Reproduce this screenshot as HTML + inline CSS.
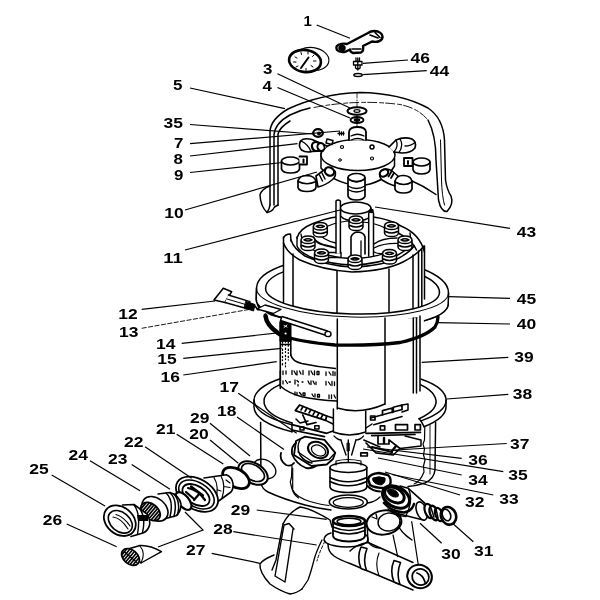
<!DOCTYPE html>
<html><head><meta charset="utf-8"><title>Filter parts diagram</title>
<style>html,body{margin:0;padding:0;background:#fff}svg{display:block;will-change:transform}</style></head>
<body>
<svg width="600" height="600" viewBox="0 0 600 600">
<rect width="600" height="600" fill="#fff"/>
<g id="drawing" fill="none" stroke="#000" stroke-width="1.5" stroke-linecap="round" stroke-linejoin="round">
<!-- gauge -->
<g id="gauge">
<ellipse cx="312" cy="59" rx="17" ry="11.5" transform="rotate(8 312 59)" stroke-width="1.1"/>
<ellipse cx="305" cy="61" rx="16" ry="11" transform="rotate(8 305 61)" fill="#fff" stroke-width="2.6"/>
<line x1="308.5" y1="57.5" x2="301" y2="68" stroke-width="2"/>
<path d="M295 57l2 1M293.5 62l2.5 0M296 67l2-1M301 52.5l.5 2M308 52l0 2M314 55l-1.5 1.5M316 61l-2.5 0M313 67l-2-1.5M306 70.5l0-2" stroke-width="1"/>
</g>
<!-- handle (1) -->
<g id="handle">
<path d="M347 44 L368 33 Q372 30 378 31.5 Q384 34 382 39 Q379 43 372 41.5 L363 46 Q364 51 361 52.5 L353 53 Q350 52 350 49.5 L346 51.5 Q340 53 337 50 Q335 46 339 44.5 Q343 43 347 44Z" fill="#fff" stroke-width="2.400"/>
<ellipse cx="342" cy="48" rx="3" ry="2.4" fill="#000"/>
<path d="M352 49h9M370 35l8 3M375 32.5l5 5" stroke-width="1.6"/>
</g>
<!-- bolt 46 / washer 44 -->
<g id="bolt46">
<path d="M353.5 61.5h8.5v3.5h-8.5zM356 58v3.5M359.5 58v3.5M355.5 65v3q2.3 2 4.600 0v-3M357.800 58v12" stroke-width="1.3"/>
<ellipse cx="358" cy="75" rx="4.200" ry="1.500" stroke-width="1.4"/>
</g>
<!-- washer 3 / nut 4 -->
<g id="w3">
<path d="M357 93v34" stroke-width="0.800" stroke-dasharray="5 2 1 2"/>
<ellipse cx="357" cy="111" rx="9.500" ry="3.800" fill="#fff" stroke-width="2"/>
<ellipse cx="357" cy="111" rx="3" ry="1.300" stroke-width="1.200"/>
<ellipse cx="357" cy="120" rx="6.500" ry="3" fill="#fff" stroke-width="1.800"/>
<ellipse cx="357" cy="120" rx="2.500" ry="1.200" fill="#000"/>
</g>
<!-- dome (5) -->
<g id="dome">
<path d="M270 205 L270 131 Q271 119 288 109 Q320 94 360 92.500 Q400 93 428 108 Q443 118 444.500 140 L445.500 180 Q447 190 451 196 Q454 204 447 211.500 Q441 212 438.500 200 L436 160 Q436 135 428 120"/>
<path d="M274 205 L274 135 Q275 123 290 115 Q300 110 310 108"/>
<path d="M278 205 L278 134 Q280 127 290 121"/>
<path d="M314 107.500 Q357 99 400 104.500 Q418 108 428 120" stroke-width="0.900" stroke-dasharray="9 3 4 2"/>
<path d="M440.500 140 L441.500 180 Q442 196 444.500 205" stroke-width="1"/>
<!-- left foot -->
<path d="M270 186 Q261.500 189 260 195 Q260.500 206 267 212.500 Q272 212 274.500 207 L278 205"/>
<path d="M270 205 Q269.500 209 267 212.500"/>
<!-- bottom rim arcs -->
<path d="M410 180 Q424 186 436 194.500"/>
</g>
<g id="manifold">
<!-- disc -->
<path d="M321 153 L321 168 Q332 182 358 186 Q384 184 394.500 166 L394.500 158" fill="#fff"/>
<ellipse cx="358" cy="155" rx="37" ry="15.500" fill="#fff"/>
<circle cx="372" cy="147" r="2" stroke-width="1.500"/>
<circle cx="342" cy="147" r="1.500" stroke-width="1.200"/>
<circle cx="372" cy="158.500" r="1.500" stroke-width="1.200"/>
<circle cx="340" cy="160" r="1.300" stroke-width="1"/>
<!-- top socket -->
<path d="M349 140 V132 Q349.500 127 357.500 127 Q365.500 127 366 132 V140" fill="#fff" stroke-width="1.800"/>
<path d="M351 136 Q357.500 132.500 364 136 M351 140 Q357.500 137 364 140" stroke-width="1.300"/>
<!-- upper-right socket -->
<path d="M389 147 L396 140 Q404 136.500 412 139 Q417 142 415 148 Q411 153 402 153 L394 152" fill="#fff" stroke-width="1.700"/>
<path d="M396 140 Q399 146 394 152 M400 139 Q404 145 399 152.500 M405 146 Q411 146 415 142.500" stroke-width="1.300"/>
<!-- right socket -->
<path d="M413 162 V169.500 Q414 174 421.500 174 Q429 174 430 169.500 V162" fill="#fff" stroke-width="1.700"/>
<ellipse cx="421.500" cy="162" rx="8.500" ry="4" fill="#fff" stroke-width="1.700"/>
<path d="M404 158 h8.500 v8 h-8.500z" fill="#fff" stroke-width="1.800"/>
<path d="M408 161v3" stroke-width="2"/>
<!-- lower-right arm -->
<path d="M381 171 Q386 167 392 171 L398 176 L395 186 Q388 184 382 180 Q378 176 381 171Z" fill="#fff" stroke-width="1.600"/>
<ellipse cx="384" cy="173" rx="4.500" ry="3.300" transform="rotate(-30 384 173)" fill="#fff" stroke-width="2.200"/>
<path d="M388.500 176.500 l3-5 M391 178 l3-5" stroke-width="1.800"/>
<path d="M395 181 V189 Q396 193 403.500 193 Q411 193 412 189 V181" fill="#fff" stroke-width="1.700"/>
<path d="M395 182 Q396 175 404 175.500 Q411.500 176 412 182 Q404 187 395 182Z" fill="#fff" stroke-width="1.600"/>
<!-- bottom socket -->
<path d="M348 178 V196 Q349 200 356.500 200 Q364 200 365 196 V178" fill="#fff" stroke-width="1.700"/>
<ellipse cx="356.500" cy="177.500" rx="8.500" ry="4" fill="#fff" stroke-width="1.700"/>
<path d="M350 180 Q356.500 184 363 180 M348 186 Q356.500 191 365 186 M348 189.500 Q356.500 194.500 365 189.500" stroke-width="1.300"/>
<!-- lower-left arm -->
<path d="M335 171 Q330 167 324 170 L316 176 L318 187 Q326 185 332 180 Q337 176 335 171Z" fill="#fff" stroke-width="1.600"/>
<ellipse cx="329.500" cy="171.500" rx="4.800" ry="4" transform="rotate(30 329.500 171.500)" fill="#fff" stroke-width="2.200"/>
<path d="M322 173 l3 6 M319.500 175 l3 6" stroke-width="1.500"/>
<path d="M298 181 V187.500 Q299 191.500 307 191.500 Q315 191.500 316 187.500 V181" fill="#fff" stroke-width="1.700"/>
<path d="M298 181.500 Q299 175.500 307 175.500 Q315 176 316 181.500 Q307 186 298 181.500Z" fill="#fff" stroke-width="1.600"/>
<!-- left socket -->
<path d="M281.500 161 V169 Q282.500 173 290.500 173 Q298.500 173 299.500 169 V161" fill="#fff" stroke-width="1.700"/>
<ellipse cx="290.500" cy="161" rx="9" ry="4" fill="#fff" stroke-width="1.700"/>
<path d="M299.500 156.500 h7.500 v8 h-7.500" fill="#fff" stroke-width="1.800"/>
<path d="M303.500 159.500v3" stroke-width="2"/>
<!-- upper-left socket -->
<path d="M327 146 L312 139.500 Q304 137.500 300.500 141 Q298 146 301.500 150 Q306 153 312 151.500 L323 151" fill="#fff" stroke-width="1.700"/>
<path d="M301 141 Q308 144 311 151.500" stroke-width="1.300"/>
<ellipse cx="316" cy="146.500" rx="4" ry="4.500" transform="rotate(-20 316 146.500)" fill="#fff" stroke-width="2.300"/>
<ellipse cx="321" cy="147" rx="3.500" ry="4" transform="rotate(-20 321 147)" fill="#fff" stroke-width="2"/>
<path d="M327 139 l6 1.500 l-1 4 l-6-1.500z" fill="#fff" stroke-width="1.500"/>
<!-- 35 plug -->
<ellipse cx="318" cy="133" rx="4.800" ry="3.800" fill="#fff" stroke-width="2.300"/>
<circle cx="319" cy="133.500" r="1.200" fill="#000"/>
<!-- small bolt 7 -->
<path d="M338 133.500 h6 M339.500 132 v3 M341.500 132 v3 M343.500 132 v3" stroke-width="1.300"/>
</g>
<g id="tankrim">
<path d="M254 400 V407 A96 31 0 0 0 446 407 V400 A96 31 0 0 0 254 400Z" fill="#fff" stroke="none"/>
<path d="M292 424.700 A96 31 0 1 1 421 420.900"/>
<path d="M292 431.700 A96 31 0 0 1 254 407 V400 M446 400 V407 A96 31 0 0 1 424 426.700"/>
<path d="M292 422.900 A86 29 0 1 1 419 418.800"/>
<path d="M292 422.900 V431.700 M419 418.800 L421 420.900 L424 426.700"/>
</g>
<g id="ring45" transform="rotate(1.5 352.5 291)">
<path d="M256.500 290.500 V301.500 A96 26.500 0 0 0 448.500 301.500 V290.500 A96 34 0 0 0 256.500 290.500Z" fill="#fff"/>
<path d="M265.500 290.500 A87 28 0 0 1 439.500 290.500"/>
</g>
<g id="cartridge">
<!-- body fill -->
<path d="M283.500 243 V303 Q300 320 353 323 Q405 320 424 300 V246 Q424 215 353 215 Q283 215 283.500 243Z" fill="#fff" stroke="none"/>
<!-- back rim of top -->
<path d="M297 238 Q299 229 313 223.500 Q330 216 353 215.500 Q385 216 401 226 Q420 234 424.500 252"/>
<path d="M283.500 238 Q285 234 290.500 234 L291 241"/>
<path d="M399 233.500 Q412 240 416.500 250"/>
<!-- front rim of top (double) -->
<path d="M283.500 243 Q287 253 300 260 Q322 270 352 272 Q385 271 403 262 Q417 255 424 246"/>
<path d="M291 240 Q294 249 305 256 Q325 265.500 352 267 Q382 266 399 258 Q410 252 414 246"/>
<!-- verticals -->
<path d="M283.500 237 V304 M293 254 V308 M337 271 V318 M389 269 V316 M413 255 V312 M418.500 251 V309 M421.800 249 V307 M424.500 246 V299"/>
<!-- inner spirals -->
<path d="M297 237 V246 Q299 252 313 258 Q330 264 352 265 Q380 264 396 256 Q408 250 411 243 L410 233" stroke-width="1.400"/>
<path d="M301 234 Q302 246 318 252 Q334 258 352 258.500 Q376 258 390 251" stroke-width="1.300"/>
<path d="M313 237 Q316 243 324 245 Q331 246.500 336 248" stroke-width="1.800"/>
<path d="M318 232 Q322 240 336 243" stroke-width="1.300"/>
<path d="M351 256 V237 Q353 232 358 232 Q364 232.500 365 237 V254" stroke-width="1.600"/>
<path d="M361 256 V241" stroke-width="1.300"/>
<path d="M374 244 Q382 238 397 238" stroke-width="1.500"/>
<path d="M374 248 Q384 243 398 243.500" stroke-width="1.200"/>
<path d="M328 226 Q340 221 352 221 M362 222 Q376 223 385 228" stroke-width="1.200"/>
<path d="M328 252.500 h13 v5 h-13z" stroke-width="1.400"/>
<path d="M374 252 Q382 256 392 250" stroke-width="1.300"/>
<!-- centre cap 43 -->
<path d="M340.500 208 V216 Q345 221 355.500 221 Q366 221 371 216 V208" fill="#fff"/>
<ellipse cx="355.600" cy="208" rx="15.200" ry="6" fill="#fff" stroke-width="1.500"/>
<!-- rods -->
<path d="M336 253 V201 Q338 199 340.400 201 V253" fill="#fff" stroke-width="1.500"/>
<path d="M368.700 256 V213 Q371 210.500 373.500 213 V256" fill="#fff" stroke-width="1.500"/>
<circle cx="371.500" cy="211" r="1.600" fill="#000"/>
</g>
<g id="tubes" fill="#fff" stroke-width="1.500">
<path transform="translate(349 216)" d="M0 4 V11 Q0.500 14.500 7 14.500 Q13.500 14.500 14 11 V4 Q13.500 0 7 0 Q0.500 0 0 4 Q0.500 7.500 7 7.500 Q13.500 7.500 14 4 M1 9.500 Q7 12.500 13 9.500 M3 3.800 Q7 1.500 11 3.800 Q7 6 3 3.800"/>
<path transform="translate(313.3 222.5)" d="M0 4 V11 Q0.500 14.500 7 14.500 Q13.500 14.500 14 11 V4 Q13.500 0 7 0 Q0.500 0 0 4 Q0.500 7.500 7 7.500 Q13.500 7.500 14 4 M1 9.500 Q7 12.500 13 9.500 M3 3.800 Q7 1.500 11 3.800 Q7 6 3 3.800"/>
<path transform="translate(384.5 222)" d="M0 4 V11 Q0.500 14.500 7 14.500 Q13.500 14.500 14 11 V4 Q13.500 0 7 0 Q0.500 0 0 4 Q0.500 7.500 7 7.500 Q13.500 7.500 14 4 M1 9.500 Q7 12.500 13 9.500 M3 3.800 Q7 1.500 11 3.800 Q7 6 3 3.800"/>
<path transform="translate(301 236)" d="M0 4 V11 Q0.500 14.500 7 14.500 Q13.500 14.500 14 11 V4 Q13.500 0 7 0 Q0.500 0 0 4 Q0.500 7.500 7 7.500 Q13.500 7.500 14 4 M1 9.500 Q7 12.500 13 9.500 M3 3.800 Q7 1.500 11 3.800 Q7 6 3 3.800"/>
<path transform="translate(398 236)" d="M0 4 V11 Q0.500 14.500 7 14.500 Q13.500 14.500 14 11 V4 Q13.500 0 7 0 Q0.500 0 0 4 Q0.500 7.500 7 7.500 Q13.500 7.500 14 4 M1 9.500 Q7 12.500 13 9.500 M3 3.800 Q7 1.500 11 3.800 Q7 6 3 3.800"/>
<path transform="translate(314.5 249)" d="M0 4 V11 Q0.500 14.500 7 14.500 Q13.500 14.500 14 11 V4 Q13.500 0 7 0 Q0.500 0 0 4 Q0.500 7.500 7 7.500 Q13.500 7.500 14 4 M1 9.500 Q7 12.500 13 9.500 M3 3.800 Q7 1.500 11 3.800 Q7 6 3 3.800"/>
<path transform="translate(382.5 249.5)" d="M0 4 V11 Q0.500 14.500 7 14.500 Q13.500 14.500 14 11 V4 Q13.500 0 7 0 Q0.500 0 0 4 Q0.500 7.500 7 7.500 Q13.500 7.500 14 4 M1 9.500 Q7 12.500 13 9.500 M3 3.800 Q7 1.500 11 3.800 Q7 6 3 3.800"/>
<path transform="translate(348 255)" d="M0 4 V11 Q0.500 14.500 7 14.500 Q13.500 14.500 14 11 V4 Q13.500 0 7 0 Q0.500 0 0 4 Q0.500 7.500 7 7.500 Q13.500 7.500 14 4 M1 9.500 Q7 12.500 13 9.500 M3 3.800 Q7 1.500 11 3.800 Q7 6 3 3.800"/>
</g>
<g id="ring45front" transform="rotate(1.5 352.5 291)">
<path d="M256.500 290.500 V301.500 A96 26.500 0 0 0 448.500 301.500 V290.500 L439.500 290.500 A87 23.500 0 0 1 265.500 290.500Z" fill="#fff" stroke="none"/>
<path d="M256.500 290.500 V301.500 A96 26.500 0 0 0 448.500 301.500 V290.500"/>
<path d="M439.500 290.500 A87 23.500 0 0 1 265.500 290.500"/>
<path d="M256.500 290.500 A96 26.500 0 0 0 448.500 290.500" stroke-width="1"/>
<path d="M345 320.500 h38 M390 319.500 h14 M409 317.500 l9-1.500" stroke-width="0.800" stroke-dasharray="3 1.500"/>
</g>
<g id="lowercart">
<path d="M280.300 321 V388.500 Q300 398 337 400.500 V408 Q360 415 385 404 L413 393 L420 391 L424 318Z" fill="#fff" stroke="none"/>
<!-- o-ring 40 -->
<path d="M265.500 315 Q266 326 280 335 Q300 342 335 345 Q370 346 400 342.500 Q425 337 435 327 Q438 322 438 317" stroke-width="3.300"/>
<path d="M265.500 316 Q266.500 325 278 333" stroke-width="4.500"/>
<!-- lower body right verticals -->
<path d="M385 318 V404 M413.300 318 V393 M420 316 V391 M416.500 318 V393"/>
<path d="M337.300 319 V409"/>
<!-- upper body bottom edge -->
<path d="M290.800 355 Q292 361 301.700 363.500 Q318 367 335.500 368.500"/>
<!-- printed cartridge -->
<path d="M280.300 371 V386 Q288 393 301.700 396.700 Q318 400 337 401"/>
<g stroke-width="1.300">
<path d="M283 371 v3.500 M286 371 v3 M292 370.500 v4 M294 371 l2 3.500 M297 371 v4 M299.500 371 l1.500 3 M303 370.500 v4 M309 371 v4 M311 371 l2 3.500 M314.500 371 v4 M317 371.500 h2 v3 h-2z M326 372 v3.500 M329 372 l2 3 M333 371.500 v4 M335 372 v3.500" />
<path d="M283 381 v3 M285.500 380.500 l2 3 M289 382 h1.500 M295 380 v4 M297 380.500 l1.500 1.500 M298 384.500 v1.500 M302 382 h1 M308 381 l1.500 3 M311 381 v3.500 M313 381 l1.500 3 M316 382 v2.500 M326 381.500 v3.500 M328.500 382 l2 3 M332 381.500 v4 M334.500 382 v3.500"/>
<path d="M295 392 v3 M297 392.500 v2.500 M299.500 392.500 l2 2.500 M303 393 h2 v2.500 h-2z M312 394 l1.500 2.500 M315 394 v3 M317.500 394.500 h2 v2.500 h-2z M329 395 v3.500 M331.500 395 v3.500 M334 395 l1.500 3"/>
</g>
<!-- core bottom -->
<path d="M337.300 408 Q360 415 385 404"/>
<path d="M333.400 409 V432 Q349 438 365.700 432 V411"/>
<!-- band -->
<path d="M280.300 322 V388.500 M290.800 338 V355" stroke-width="1.600"/>
<path d="M282.500 342 V366 M285.500 341 V369 M288.300 342 V360" stroke-width="1.300" stroke-dasharray="1.200 2.200 0.800 3"/>
<path d="M280 341 V323 Q280 317.800 285.500 317.800 Q291 317.800 291 323 V341 Z" fill="#000" stroke-width="1"/>
<path d="M284 325.500 l3 1.500 M284 327.500 l3 -2.500" stroke="#fff" stroke-width="0.900"/>
<circle cx="285.600" cy="333.500" r="1.100" fill="#fff" stroke="none"/>
<path d="M281 344.500 h9" stroke-width="1.500"/>
<!-- pin 14 -->
<path d="M282 316.500 L327.500 331 Q331 333.500 329.500 336.500 L280.500 320.500Z" fill="#fff" stroke-width="1.400"/>
<ellipse cx="328" cy="334" rx="3" ry="2.600" fill="#fff" stroke-width="1.400"/>
<!-- handle 12/13 -->
<path d="M214 300 L223.300 288.300 L231.700 291.700 L225 302.500Z" fill="#fff" stroke-width="1.600"/>
<path d="M228.300 295 L250 301.700 L248.300 309 L225 302.500" fill="#fff" stroke-width="1.400"/>
<path d="M227 299 L249 305.500" stroke-width="1"/>
<path d="M246 301.500 L255 304.500 L253.500 311 L244.500 308Z" fill="#000" stroke-width="1"/>
<path d="M255 306 l3 4 M257.500 304.500 l2 5" stroke-width="1.500"/>
<path d="M257 309 L273.300 313.500 L281 309.500 L265 305Z" fill="#fff" stroke-width="1.300"/>
<path d="M266 311.500 Q270 316 281 317" stroke-width="1.300"/>
</g>
<g id="tank">
<!-- walls -->
<path d="M260.600 422.500 L261 483 Q262 489 268 492 Q283 499 305 505 Q318 508.500 331 510"/>
<path d="M435.600 422.500 L435 470 Q434 479 425 483 Q416 486 408 486.500"/>
<path d="M424.800 427 L424.500 440 l-1.500 4 l1.500 5 l-1 6 l1.500 5 l-1.500 6 l0.500 6 Q420 482 414 484" stroke-width="1.200"/>
<path d="M430 425 V474" stroke-width="0.900"/>
<!-- left port -->
<path d="M281 452.800 Q279 460 286 465 Q291 467 294 463" stroke-width="1.800"/>
<path d="M292 466 L291.500 477 l-1.200 5 l1.200 5 Q293 494 298.500 498" stroke-width="1.200"/>
<!-- diffuser left -->
<path d="M295.300 410.600 L299.600 405 L326.700 416 L325.600 420.300 Z" fill="#fff" stroke-width="1.8"/>
<path d="M301 410 l2-3.500 M305 411.500 l2-3.500 M309 413 l2-3.500 M313 414.800 l2-3.500 M317 416.500 l2-3.500 M321 418 l2-3.500" stroke-width="1.6"/>
<path d="M302.800 415 L307 424.700 L316 422.500" stroke-width="1.7"/>
<path d="M292 424.700 L326.700 433.300 M292 430 L324.500 436.600 M326.700 433.300 L333 431" stroke-width="1.7"/>
<path d="M314.800 425.800 h4.200 v3.200 h-4.200z M300 427 h4 v3 h-4z" stroke-width="1.5"/>
<!-- right internals -->
<path d="M370.600 418 L402 409.500 M373.800 424.700 L402 416.500" stroke-width="1.7"/>
<path d="M382.500 415 V410.600 L392.300 408 V412.500 M393.300 412 V407.300 L402 405 V409.500" stroke-width="1.7"/>
<path d="M395.500 424.700 h12 v5.300 h-12z M415 424.700 h5.400 v5.300 h-5.400z M380.300 425.800 h4.400 v4.200 h-4.400z M370.600 416 h4.400 v4 h-4.400z" stroke-width="1.7"/>
<path d="M366 433.300 L420.400 432.300 M371.700 435.600 L415 434.500" stroke-width="1.7"/>
<path d="M378 436.600 V444 h11 V439.800 L400 448.500 L393.300 455 L376 452.800 L366 443" stroke-width="1.7"/>
<path d="M384 438 v5 M396 446 l-4 5" stroke-width="2.4"/>
<path d="M360.800 452.800 h6.500 v3.200 h-6.500z" stroke-width="1.7"/>
<path d="M363.800 440 L380 447" stroke-width="1.4"/>
<path d="M296 419 L300 423 L308 421 M326.700 416 L333 418 M325.600 420.300 L333 424" stroke-width="1.500"/>
<path d="M366 428 L372 424 M402 405 L408 404 L408 410 L402 412" stroke-width="1.500"/>
<path d="M405 436 L421 440 L421 446 L400 448.500" stroke-width="1.500"/>
<path d="M372 447 L392 452" stroke-width="2.200"/>
</g>
<g id="center">
<!-- hex nut 18 -->
<path d="M294 455 L296 441 L305 436.600 L324.500 439.800 L335.300 452.800 L333 459 L326.700 464.500 L311.500 466 Z" fill="#fff" stroke-width="1.800"/>
<path d="M335.300 452.800 L329 459.500 L312 461.500 L298 452" stroke-width="1.300"/>
<ellipse cx="318" cy="450" rx="10.500" ry="7.500" transform="rotate(25 318 450)" fill="#fff" stroke-width="2"/>
<ellipse cx="318.500" cy="450.500" rx="7.500" ry="5" transform="rotate(25 318.500 450.500)" stroke-width="1.300"/>
<path d="M296 443 Q291 446 292 454 Q296 464 306 468 Q312 469 316 466" stroke-width="1.800"/>
<path d="M300 440 Q296 447 300 455 Q305 462 312 463" stroke-width="1.500"/>
<!-- cone under centre tube -->
<path d="M340.800 439.800 L346 455 M356 439.800 L351.600 455 M348.300 440 V461.500" stroke-width="1.400"/>
<path d="M347.300 443 h2 v8 h-2z" fill="#000" stroke-width="0.800"/>
<path d="M334 436 Q338 440 341 440 M363.500 436 Q360 440 356 440" stroke-width="1.200"/>
<!-- cylinder -->
<path d="M330 467.500 V487 Q331 492 348 492.500 Q366 492 366.800 487 V467.500" fill="#fff" stroke-width="1.600"/>
<ellipse cx="348.400" cy="467.500" rx="18.400" ry="5" fill="#fff" stroke-width="1.600"/>
<path d="M330 477.500 Q348 486 366.800 477.500 M330 481.500 Q348 490 366.800 481.500" stroke-width="1.500"/>
<path d="M336 461 Q348 458 361 461 L361 465 M336 461 V465" stroke-width="1.200"/>
<!-- o-ring below -->
<ellipse cx="348.300" cy="502" rx="19" ry="7" fill="#fff" stroke-width="1.600"/>
<ellipse cx="348.300" cy="502.500" rx="15" ry="4.800" stroke-width="1.300"/>
<!-- tank bottom inner -->
<path d="M292.700 468 V490 Q296 497 310 501.500 Q322 505 329 505.500" stroke-width="1.200"/>
<path d="M367.500 503 Q375 502 380 497" stroke-width="1.300"/>
</g>
<g id="leftfit">
<!-- ring behind 29 -->
<ellipse cx="264.500" cy="469" rx="12" ry="9" transform="rotate(30 264.500 469)" stroke-width="1.300"/>
<!-- 29 ring -->
<ellipse cx="253" cy="473" rx="16" ry="10" transform="rotate(30 253 473)" fill="#fff" stroke-width="2"/>
<ellipse cx="253" cy="472.500" rx="12.500" ry="7.500" transform="rotate(30 253 472.500)" stroke-width="1.700"/>
<!-- 20 o-ring -->
<ellipse cx="236" cy="478" rx="14.500" ry="9" transform="rotate(30 236 478)" fill="#fff" stroke-width="2.800"/>
<!-- 21 -->
<path d="M204 478 L226.300 474.700 Q232 477 233 483.500 Q233.500 489 231 492 L218 501.500" fill="#fff" stroke-width="1.600"/>
<path d="M221 476 Q226 485 222 498 M214 477.500 Q220 487 215 502 M226 480 l4 3 M224 486.500 l6 1 M218 490 l3 1" stroke-width="1.200"/>
<ellipse cx="197" cy="494.200" rx="23" ry="15" transform="rotate(32 197 494.200)" fill="#fff" stroke-width="1.800"/>
<ellipse cx="196.500" cy="494.500" rx="19.500" ry="12" transform="rotate(32 196.500 494.500)" stroke-width="1.600"/>
<ellipse cx="196" cy="495" rx="15" ry="9" transform="rotate(32 196 495)" stroke-width="1.800"/>
<path d="M188 488 Q198 490 205 500 M191 486.500 l12 9 M194 500 l6-7 M186 492 l8 7" stroke-width="2.200"/>
<!-- 22 ring -->
<ellipse cx="183.500" cy="501" rx="10.500" ry="5.500" transform="rotate(50 183.500 501)" fill="#fff" stroke-width="2.200"/>
<!-- 23 threaded + flange -->
<path d="M158 494 L170 492.500 Q179 495 181 504 Q181 512 176 515.800 L164 519" fill="#fff" stroke-width="1.500"/>
<path d="M166 493 Q174 500 170 517 M170 492.800 Q178 500 174 516.500 M174 494 Q181 502 177.500 515" stroke-width="1.500"/>
<ellipse cx="155" cy="508.800" rx="14.500" ry="10.500" transform="rotate(40 155 508.800)" fill="#fff" stroke-width="1.600"/>
<!-- 24 dark -->
<g transform="rotate(40 150.500 511.500)">
<ellipse cx="150.500" cy="511.500" rx="11" ry="7.500" fill="#fff" stroke-width="1.800"/>
<path d="M141.500 508 v7 M144 506.500 v10 M146.500 505.500 v12 M149 505 v13 M151.500 505 v13 M154 505.300 v12.500 M156.500 506 v11 M159 507.500 v8" stroke-width="1.700"/>
</g>
<!-- 25 cap -->
<path d="M122.500 505 L134 504.500 L147 514 Q150.500 519 149.600 525 Q148 531 143 533 L131 536.500" fill="#fff" stroke-width="1.600"/>
<path d="M134 505 Q141 514 137.500 534 M140 509 Q146 518 142.500 532.500" stroke-width="1.400"/>
<path d="M137 515 h11 v6 h-10z" fill="#000" stroke="none"/>
<ellipse cx="119.800" cy="520.700" rx="17.500" ry="13.500" transform="rotate(40 119.800 520.700)" fill="#fff" stroke-width="1.800"/>
<ellipse cx="120.300" cy="521.800" rx="13.500" ry="9.500" transform="rotate(40 120.300 521.800)" stroke-width="1.600"/>
<path d="M113 517 Q121 518 128 529 M116 514.500 Q124 517 130 526" stroke-width="1.100"/>
<!-- 26 -->
<path d="M128 549 L140 545.500 Q150 545 161.500 551.600 L141 563 Z" fill="#fff" stroke-width="1.400"/>
<path d="M140 546 Q146 553 141 563" stroke-width="1.100"/>
<g transform="rotate(40 130.500 557)">
<ellipse cx="130.500" cy="557" rx="10" ry="7" fill="#fff" stroke-width="1.800"/>
<path d="M122.500 554 v6 M125 552.500 v9 M127.500 551.500 v11 M130 551 v12 M132.500 551 v12 M135 551.500 v11 M137.500 553 v8" stroke-width="1.600"/>
<path d="M122 557 h17" stroke-width="1.200"/>
</g>
</g>
<g id="base27">
<path d="M283 524 Q288 513 300 507 Q310 508 330 520 L332 527" stroke-width="1.400"/>
<path d="M283 524 L276 560 L272 570" stroke-width="1.400"/>
<path d="M284 525 L275 576 M293 529 L285 582 M284 525 L289 523.500 L294 529 M275 576 L285 582" stroke-width="1.400"/>
<path d="M274 555 Q262 560 260 564 Q259 572 270 584 Q280 591 290 594 Q297 593 302 589" stroke-width="1.400"/>
<path d="M322 540 Q316 552 314 560 Q311 572 308 580 L302 589" stroke-width="1.300"/>
<path d="M325 541 Q319 553 317 561" stroke-width="1" stroke-dasharray="3 2"/>
</g>
<g id="pipe28">
<!-- union nut -->
<path d="M333 521 V536 Q334 541 349 541.500 Q364 541 365 536 V521" fill="#fff" stroke-width="1.800"/>
<ellipse cx="349" cy="521" rx="16" ry="5" fill="#fff" stroke-width="2.600"/>
<ellipse cx="349" cy="521.500" rx="12" ry="3.300" stroke-width="1.500"/>
<path d="M333 527 Q349 534 365 527 M333 530.500 Q349 537.500 365 530.500" stroke-width="1.500"/>
<!-- flange + elbow body -->
<path d="M331 533 Q324 535 324 540 Q326 546 346 547 Q366 546.500 368 540 Q368 536 365 534" stroke-width="1.500"/>
<path d="M328 544 Q328 552 334 556 Q340 560 350 563.500 L413 590" stroke-width="1.500"/>
<path d="M350 551 Q356 544.500 368 542.500 L413 562.500" stroke-width="1.500"/>
<!-- clamps -->
<path d="M361 547 Q356.500 557 361 568.500 L366.500 570.500 Q362.500 560 367 548.500Z" fill="#fff" stroke-width="1.600"/>
<path d="M394 560.500 Q389.500 571 394 582 L400 584.500 Q396 574 400.500 562.500Z" fill="#fff" stroke-width="1.600"/>
<path d="M379 553 Q374.500 564 379 575.500" stroke-width="1.100"/>
<!-- pipe end -->
<ellipse cx="419.600" cy="576.500" rx="12.500" ry="11.500" transform="rotate(25 419.600 576.500)" fill="#fff" stroke-width="2"/>
<ellipse cx="420.500" cy="577" rx="8.500" ry="8" transform="rotate(25 420.500 577)" stroke-width="1.800"/>
<path d="M417 573 Q423 575 425 582" stroke-width="1.800"/>
<!-- elbow opening -->
<path d="M367 522 L368 541.500 Q372 548 380 548 M397.700 524 Q400 532 412 540" stroke-width="1.400"/>
<ellipse cx="384" cy="522.500" rx="17.500" ry="12" transform="rotate(-8 384 522.500)" fill="#fff" stroke-width="2"/>
<ellipse cx="389" cy="522" rx="11" ry="9" transform="rotate(-8 389 522)" stroke-width="1.400"/>
<path d="M372 517 l5 2 M376 514 l1 4" stroke-width="1.300"/>
<path d="M411.700 521.700 L418.300 565 M393 535 L397.700 556.700" stroke-width="1.200"/>
</g>
<g id="valve30">
<!-- body cylinder -->
<path d="M400 486 L408.300 488.300 L425 503.300 M392 512 L403.300 515 L423.300 520" stroke-width="1.600"/>
<path d="M408.300 488.300 Q414 500 406 515.500" stroke-width="1.300"/>
<ellipse cx="421.700" cy="511" rx="5" ry="9.500" transform="rotate(-20 421.700 511)" fill="#fff" stroke-width="1.600"/>
<!-- nut upper-left -->
<path d="M368 479 Q370 473.500 379 473 L388 475 Q392 479 390 485 L385 488 Q375 488 370 485Z" fill="#fff" stroke-width="2.400"/>
<path d="M373 478 Q379 475.500 385 478 Q386 483 381 485 Q375 484.500 373 481Z" fill="#000" stroke-width="1"/>
<path d="M367.500 486 Q372 491 380 491.500" stroke-width="2"/>
<!-- ring cluster -->
<ellipse cx="396" cy="497" rx="14.500" ry="10" transform="rotate(30 396 497)" fill="#fff" stroke-width="3"/>
<ellipse cx="394.500" cy="495" rx="10.500" ry="7" transform="rotate(30 394.500 495)" fill="#fff" stroke-width="2.800"/>
<ellipse cx="393" cy="493" rx="6" ry="3.200" transform="rotate(30 393 493)" fill="#000" stroke-width="1"/>
<path d="M384 503 Q392 512 404 512.500 Q412 511 414 504" stroke-width="2.600"/>
<path d="M388 509 Q396 516 406 516.500" stroke-width="1.600"/>
<!-- stem rings -->
<ellipse cx="429" cy="511" rx="4" ry="7.500" transform="rotate(-20 429 511)" fill="#fff" stroke-width="2.200"/>
<ellipse cx="434" cy="513" rx="4" ry="7.500" transform="rotate(-20 434 513)" fill="#fff" stroke-width="2.400"/>
<ellipse cx="439" cy="514.500" rx="3.500" ry="7" transform="rotate(-20 439 514.500)" fill="#fff" stroke-width="2.200"/>
<path d="M431 508 l3 9 M436 509 l2 9" stroke-width="1.500"/>
<!-- cap 31 -->
<ellipse cx="448.500" cy="515.800" rx="7.500" ry="9" transform="rotate(-20 448.500 515.800)" fill="#fff" stroke-width="2.600"/>
<ellipse cx="446.500" cy="515" rx="4" ry="6" transform="rotate(-20 446.500 515)" stroke-width="1.600"/>
</g>

</g>
<g id="leaders" fill="none" stroke="#000" stroke-width="1.2">
<line x1="316.7" y1="25" x2="350" y2="38.3"/>
<line x1="408" y1="60" x2="363" y2="63.3"/>
<line x1="426.7" y1="70.7" x2="362.5" y2="74.6"/>
<line x1="277.5" y1="73.7" x2="350" y2="108"/>
<line x1="277.5" y1="87.5" x2="350" y2="118"/>
<line x1="190" y1="88" x2="285" y2="108.7"/>
<line x1="190" y1="124.5" x2="313" y2="134"/>
<line x1="190" y1="143.7" x2="340" y2="131"/>
<line x1="190" y1="156" x2="297.5" y2="143.7"/>
<line x1="190" y1="172.5" x2="282.5" y2="162.5"/>
<line x1="185" y1="210" x2="317" y2="172"/>
<line x1="185" y1="250" x2="340" y2="210"/>
<line x1="510" y1="228.3" x2="375" y2="207"/>
<line x1="510" y1="298.3" x2="448.3" y2="296.7"/>
<line x1="510" y1="324" x2="436.7" y2="322.7"/>
<line x1="508.3" y1="357.3" x2="421.7" y2="362.3"/>
<line x1="508.3" y1="394.3" x2="446.7" y2="399"/>
<line x1="506.7" y1="443.5" x2="395" y2="450"/>
<line x1="461.7" y1="458.3" x2="367" y2="447"/>
<line x1="503.3" y1="471.7" x2="363" y2="449"/>
<line x1="461.7" y1="475" x2="378" y2="458"/>
<line x1="493.3" y1="495" x2="392" y2="474.5"/>
<line x1="460" y1="495" x2="385" y2="472"/>
<line x1="441.7" y1="543.3" x2="420" y2="523.3"/>
<line x1="473.3" y1="541.7" x2="453.3" y2="524"/>
<line x1="141.7" y1="309.3" x2="215" y2="301"/>
<line x1="181.7" y1="343.3" x2="280" y2="332.7"/>
<line x1="183.3" y1="358.3" x2="281.7" y2="348.3"/>
<line x1="183.3" y1="375" x2="276.7" y2="361.7"/>
<line x1="238.3" y1="393.3" x2="296.7" y2="433.3"/>
<line x1="237" y1="417" x2="284" y2="449.5"/>
<line x1="210" y1="423.3" x2="250" y2="456"/>
<line x1="210" y1="440" x2="238.3" y2="463.3"/>
<line x1="176.7" y1="434.3" x2="223.3" y2="464"/>
<line x1="145" y1="446.7" x2="191.7" y2="478.3"/>
<line x1="131.7" y1="464.5" x2="170" y2="489.3"/>
<line x1="90" y1="460.7" x2="140" y2="490.7"/>
<line x1="51.7" y1="475" x2="105" y2="506"/>
<line x1="66.7" y1="524" x2="116.7" y2="546.7"/>
<line x1="211.7" y1="553.3" x2="260" y2="563.3"/>
<line x1="233.3" y1="531.7" x2="316.7" y2="545"/>
<line x1="256.7" y1="510" x2="326.7" y2="519.3"/>
<line x1="141.7" y1="328.3" x2="250" y2="309.3" stroke-width="0.9" stroke-dasharray="5 1.5"/>
<polyline points="158,547 203,530 185,512"/>
</g>
<g id="labels" font-family="'Liberation Sans', sans-serif" font-weight="bold" font-size="14.2" fill="#000">
<text x="303.5" y="25.8" textLength="8.3" lengthAdjust="spacingAndGlyphs">1</text>
<text x="410.5" y="63" textLength="19.4" lengthAdjust="spacingAndGlyphs">46</text>
<text x="429.8" y="75.8" textLength="19.4" lengthAdjust="spacingAndGlyphs">44</text>
<text x="263" y="74" textLength="9.4" lengthAdjust="spacingAndGlyphs">3</text>
<text x="262.5" y="91" textLength="9.4" lengthAdjust="spacingAndGlyphs">4</text>
<text x="173" y="89.5" textLength="9.4" lengthAdjust="spacingAndGlyphs">5</text>
<text x="163.5" y="128" textLength="19.4" lengthAdjust="spacingAndGlyphs">35</text>
<text x="174" y="147.5" textLength="9.4" lengthAdjust="spacingAndGlyphs">7</text>
<text x="173.5" y="163.7" textLength="9.4" lengthAdjust="spacingAndGlyphs">8</text>
<text x="174" y="180" textLength="9.4" lengthAdjust="spacingAndGlyphs">9</text>
<text x="164.3" y="218.3" textLength="19.4" lengthAdjust="spacingAndGlyphs">10</text>
<text x="163.3" y="262.7" textLength="19.4" lengthAdjust="spacingAndGlyphs">11</text>
<text x="516.7" y="236.7" textLength="19.4" lengthAdjust="spacingAndGlyphs">43</text>
<text x="516.7" y="304.3" textLength="19.4" lengthAdjust="spacingAndGlyphs">45</text>
<text x="516.7" y="329.3" textLength="19.4" lengthAdjust="spacingAndGlyphs">40</text>
<text x="514.3" y="362.3" textLength="19.4" lengthAdjust="spacingAndGlyphs">39</text>
<text x="512.7" y="399.3" textLength="19.4" lengthAdjust="spacingAndGlyphs">38</text>
<text x="510" y="449" textLength="19.4" lengthAdjust="spacingAndGlyphs">37</text>
<text x="468.3" y="465" textLength="19.4" lengthAdjust="spacingAndGlyphs">36</text>
<text x="508.3" y="480" textLength="19.4" lengthAdjust="spacingAndGlyphs">35</text>
<text x="468.3" y="485" textLength="19.4" lengthAdjust="spacingAndGlyphs">34</text>
<text x="499.3" y="504" textLength="19.4" lengthAdjust="spacingAndGlyphs">33</text>
<text x="465" y="507.3" textLength="19.4" lengthAdjust="spacingAndGlyphs">32</text>
<text x="441.2" y="558.8" textLength="19.4" lengthAdjust="spacingAndGlyphs">30</text>
<text x="474" y="555.9" textLength="19.4" lengthAdjust="spacingAndGlyphs">31</text>
<text x="118.3" y="318.5" textLength="19.4" lengthAdjust="spacingAndGlyphs">12</text>
<text x="119" y="336.7" textLength="19.4" lengthAdjust="spacingAndGlyphs">13</text>
<text x="156" y="348.8" textLength="19.4" lengthAdjust="spacingAndGlyphs">14</text>
<text x="157.3" y="364.3" textLength="19.4" lengthAdjust="spacingAndGlyphs">15</text>
<text x="160.5" y="382.3" textLength="19.4" lengthAdjust="spacingAndGlyphs">16</text>
<text x="219.5" y="392.3" textLength="19.4" lengthAdjust="spacingAndGlyphs">17</text>
<text x="217" y="416.3" textLength="19.4" lengthAdjust="spacingAndGlyphs">18</text>
<text x="190" y="423" textLength="19.4" lengthAdjust="spacingAndGlyphs">29</text>
<text x="189.3" y="438.8" textLength="19.4" lengthAdjust="spacingAndGlyphs">20</text>
<text x="156" y="434.3" textLength="19.4" lengthAdjust="spacingAndGlyphs">21</text>
<text x="124" y="446.5" textLength="19.4" lengthAdjust="spacingAndGlyphs">22</text>
<text x="108" y="463.5" textLength="19.4" lengthAdjust="spacingAndGlyphs">23</text>
<text x="68.5" y="459.6" textLength="19.4" lengthAdjust="spacingAndGlyphs">24</text>
<text x="29.3" y="473.5" textLength="19.4" lengthAdjust="spacingAndGlyphs">25</text>
<text x="42.7" y="524.5" textLength="19.4" lengthAdjust="spacingAndGlyphs">26</text>
<text x="186" y="554.5" textLength="19.4" lengthAdjust="spacingAndGlyphs">27</text>
<text x="213.3" y="534.2" textLength="19.4" lengthAdjust="spacingAndGlyphs">28</text>
<text x="230.7" y="514.7" textLength="19.4" lengthAdjust="spacingAndGlyphs">29</text>
</g>
</svg>
</body></html>
